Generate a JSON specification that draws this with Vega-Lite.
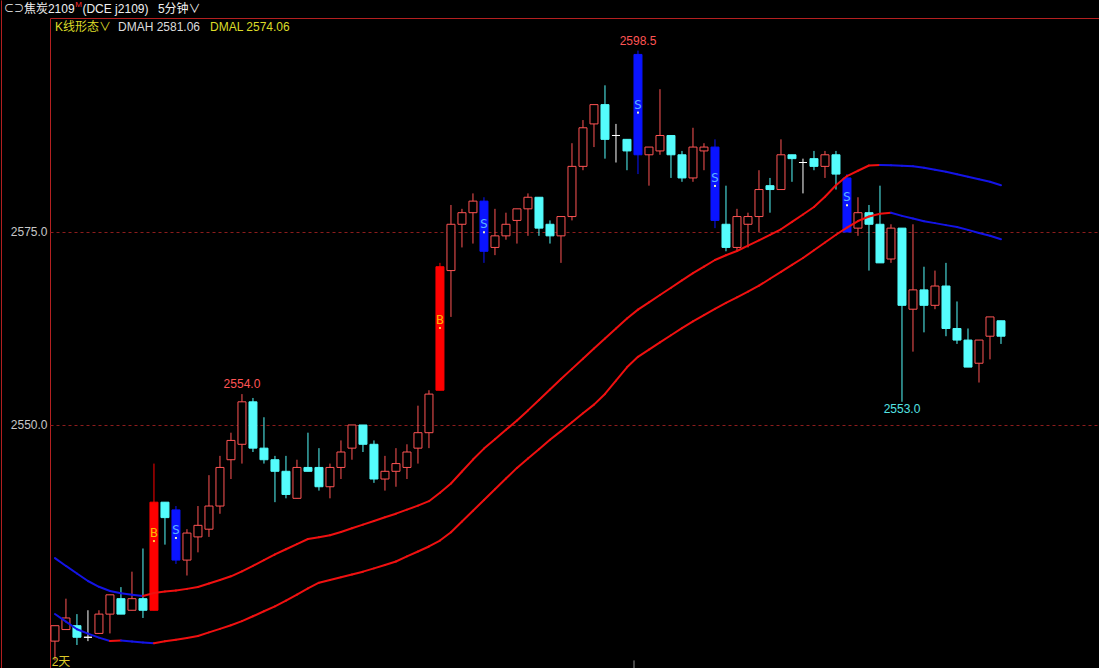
{
  "$schema": "https://vega.github.io/schema/vega-lite/v6.json",
  "width": 1049,
  "height": 650,
  "autosize": {"type": "none"},
  "padding": {"left": 50, "top": 18, "right": 0, "bottom": 0},
  "background": "#000000",
  "config": {"view": {"stroke": "#b42020", "strokeWidth": 1}, "font": "Liberation Sans, Noto Sans CJK SC"},
  "datasets": {
    "candles": [
      {"i":0,"o":2522.0,"h":2524.0,"l":2519.5,"c":2524.0,"sig":""},
      {"i":1,"o":2523.5,"h":2527.5,"l":2523.5,"c":2525.0,"sig":""},
      {"i":2,"o":2524.0,"h":2525.5,"l":2521.5,"c":2522.5,"sig":""},
      {"i":3,"o":2522.5,"h":2526.0,"l":2522.0,"c":2522.5,"sig":""},
      {"i":4,"o":2523.0,"h":2526.0,"l":2523.0,"c":2525.5,"sig":""},
      {"i":5,"o":2525.5,"h":2528.0,"l":2523.0,"c":2528.0,"sig":""},
      {"i":6,"o":2527.5,"h":2529.0,"l":2525.5,"c":2525.5,"sig":""},
      {"i":7,"o":2526.0,"h":2531.0,"l":2526.0,"c":2527.5,"sig":""},
      {"i":8,"o":2527.5,"h":2534.0,"l":2525.0,"c":2526.0,"sig":""},
      {"i":9,"o":2526.0,"h":2545.0,"l":2526.0,"c":2540.0,"sig":"B"},
      {"i":10,"o":2540.0,"h":2540.0,"l":2534.5,"c":2538.0,"sig":""},
      {"i":11,"o":2539.0,"h":2539.5,"l":2532.0,"c":2532.5,"sig":"S"},
      {"i":12,"o":2532.5,"h":2536.5,"l":2530.5,"c":2536.0,"sig":""},
      {"i":13,"o":2535.5,"h":2539.5,"l":2533.5,"c":2537.0,"sig":""},
      {"i":14,"o":2536.5,"h":2543.5,"l":2535.5,"c":2539.5,"sig":""},
      {"i":15,"o":2539.5,"h":2546.0,"l":2538.5,"c":2544.5,"sig":""},
      {"i":16,"o":2545.5,"h":2549.0,"l":2543.0,"c":2548.0,"sig":""},
      {"i":17,"o":2547.5,"h":2554.0,"l":2545.0,"c":2553.0,"sig":""},
      {"i":18,"o":2553.0,"h":2553.5,"l":2546.5,"c":2547.0,"sig":""},
      {"i":19,"o":2547.0,"h":2551.0,"l":2545.0,"c":2545.5,"sig":""},
      {"i":20,"o":2545.5,"h":2546.0,"l":2540.0,"c":2544.0,"sig":""},
      {"i":21,"o":2544.0,"h":2546.0,"l":2540.5,"c":2541.0,"sig":""},
      {"i":22,"o":2540.5,"h":2545.5,"l":2540.5,"c":2544.5,"sig":""},
      {"i":23,"o":2544.5,"h":2549.0,"l":2544.0,"c":2544.0,"sig":""},
      {"i":24,"o":2544.5,"h":2547.0,"l":2541.5,"c":2542.0,"sig":""},
      {"i":25,"o":2542.0,"h":2545.0,"l":2540.5,"c":2544.5,"sig":""},
      {"i":26,"o":2544.5,"h":2548.0,"l":2543.0,"c":2546.5,"sig":""},
      {"i":27,"o":2547.0,"h":2550.0,"l":2545.5,"c":2550.0,"sig":""},
      {"i":28,"o":2550.0,"h":2550.0,"l":2546.5,"c":2547.5,"sig":""},
      {"i":29,"o":2547.5,"h":2548.0,"l":2542.5,"c":2543.0,"sig":""},
      {"i":30,"o":2543.0,"h":2546.0,"l":2541.5,"c":2544.0,"sig":""},
      {"i":31,"o":2544.0,"h":2547.0,"l":2542.0,"c":2545.0,"sig":""},
      {"i":32,"o":2544.5,"h":2547.5,"l":2543.0,"c":2546.5,"sig":""},
      {"i":33,"o":2547.0,"h":2552.5,"l":2545.0,"c":2549.0,"sig":""},
      {"i":34,"o":2549.0,"h":2554.5,"l":2547.0,"c":2554.0,"sig":""},
      {"i":35,"o":2554.5,"h":2571.0,"l":2554.5,"c":2570.5,"sig":"B"},
      {"i":36,"o":2570.0,"h":2578.5,"l":2564.0,"c":2576.0,"sig":""},
      {"i":37,"o":2576.0,"h":2578.0,"l":2573.0,"c":2577.5,"sig":""},
      {"i":38,"o":2577.5,"h":2580.0,"l":2573.5,"c":2579.0,"sig":""},
      {"i":39,"o":2579.0,"h":2579.5,"l":2571.0,"c":2572.5,"sig":"S"},
      {"i":40,"o":2573.0,"h":2578.0,"l":2572.0,"c":2574.5,"sig":""},
      {"i":41,"o":2574.5,"h":2577.5,"l":2574.0,"c":2576.0,"sig":""},
      {"i":42,"o":2576.5,"h":2578.0,"l":2573.5,"c":2578.0,"sig":""},
      {"i":43,"o":2578.0,"h":2580.0,"l":2574.5,"c":2579.5,"sig":""},
      {"i":44,"o":2579.5,"h":2579.5,"l":2574.5,"c":2575.5,"sig":""},
      {"i":45,"o":2576.0,"h":2576.5,"l":2573.5,"c":2574.5,"sig":""},
      {"i":46,"o":2574.5,"h":2577.0,"l":2571.0,"c":2577.0,"sig":""},
      {"i":47,"o":2577.0,"h":2586.5,"l":2576.5,"c":2583.5,"sig":""},
      {"i":48,"o":2583.5,"h":2589.5,"l":2583.0,"c":2588.5,"sig":""},
      {"i":49,"o":2589.0,"h":2591.5,"l":2586.0,"c":2591.5,"sig":""},
      {"i":50,"o":2591.5,"h":2594.0,"l":2584.5,"c":2587.0,"sig":""},
      {"i":51,"o":2587.5,"h":2589.0,"l":2584.0,"c":2587.5,"sig":""},
      {"i":52,"o":2587.0,"h":2587.0,"l":2583.0,"c":2585.5,"sig":""},
      {"i":53,"o":2598.0,"h":2598.5,"l":2582.5,"c":2585.0,"sig":"S"},
      {"i":54,"o":2585.0,"h":2586.0,"l":2581.0,"c":2586.0,"sig":""},
      {"i":55,"o":2585.5,"h":2593.5,"l":2585.0,"c":2587.5,"sig":""},
      {"i":56,"o":2587.5,"h":2587.5,"l":2582.0,"c":2585.0,"sig":""},
      {"i":57,"o":2585.0,"h":2585.5,"l":2581.5,"c":2582.0,"sig":""},
      {"i":58,"o":2582.0,"h":2588.5,"l":2581.5,"c":2586.0,"sig":""},
      {"i":59,"o":2585.5,"h":2586.5,"l":2583.0,"c":2586.0,"sig":""},
      {"i":60,"o":2586.0,"h":2587.0,"l":2575.5,"c":2576.5,"sig":"S"},
      {"i":61,"o":2576.0,"h":2581.0,"l":2572.5,"c":2573.0,"sig":""},
      {"i":62,"o":2573.0,"h":2578.0,"l":2572.5,"c":2577.0,"sig":""},
      {"i":63,"o":2576.0,"h":2577.5,"l":2573.0,"c":2577.0,"sig":""},
      {"i":64,"o":2577.0,"h":2583.0,"l":2575.0,"c":2580.5,"sig":""},
      {"i":65,"o":2581.0,"h":2582.0,"l":2577.5,"c":2580.5,"sig":""},
      {"i":66,"o":2580.5,"h":2587.0,"l":2580.5,"c":2585.0,"sig":""},
      {"i":67,"o":2585.0,"h":2585.0,"l":2581.5,"c":2584.5,"sig":""},
      {"i":68,"o":2584.0,"h":2584.5,"l":2580.0,"c":2584.0,"sig":""},
      {"i":69,"o":2584.5,"h":2585.5,"l":2583.0,"c":2583.5,"sig":""},
      {"i":70,"o":2583.5,"h":2585.5,"l":2582.0,"c":2585.0,"sig":""},
      {"i":71,"o":2585.0,"h":2585.5,"l":2580.5,"c":2582.5,"sig":""},
      {"i":72,"o":2582.0,"h":2582.5,"l":2575.0,"c":2575.0,"sig":"S"},
      {"i":73,"o":2575.5,"h":2579.5,"l":2574.5,"c":2577.5,"sig":""},
      {"i":74,"o":2577.5,"h":2578.5,"l":2570.0,"c":2576.0,"sig":""},
      {"i":75,"o":2576.0,"h":2581.0,"l":2571.0,"c":2571.0,"sig":""},
      {"i":76,"o":2571.5,"h":2576.0,"l":2571.0,"c":2575.5,"sig":""},
      {"i":77,"o":2575.5,"h":2575.5,"l":2553.0,"c":2565.5,"sig":""},
      {"i":78,"o":2565.0,"h":2576.0,"l":2559.5,"c":2567.5,"sig":""},
      {"i":79,"o":2567.5,"h":2570.5,"l":2562.0,"c":2565.5,"sig":""},
      {"i":80,"o":2565.5,"h":2570.0,"l":2565.0,"c":2568.0,"sig":""},
      {"i":81,"o":2568.0,"h":2571.0,"l":2561.5,"c":2562.5,"sig":""},
      {"i":82,"o":2562.5,"h":2566.0,"l":2560.5,"c":2561.0,"sig":""},
      {"i":83,"o":2561.0,"h":2562.5,"l":2557.5,"c":2557.5,"sig":""},
      {"i":84,"o":2558.0,"h":2561.0,"l":2555.5,"c":2561.0,"sig":""},
      {"i":85,"o":2561.5,"h":2564.0,"l":2558.5,"c":2564.0,"sig":""},
      {"i":86,"o":2563.5,"h":2563.5,"l":2560.5,"c":2561.5,"sig":""}
    ],
    "ma": [
      {"i":0,"dmah":2532.76,"dmal":2525.51},{"i":1,"dmah":2531.74,"dmal":2524.52},{"i":2,"dmah":2530.76,"dmal":2523.54},
      {"i":3,"dmah":2529.79,"dmal":2522.97},{"i":4,"dmah":2529.04,"dmal":2522.45},{"i":5,"dmah":2528.50,"dmal":2522.02},
      {"i":6,"dmah":2528.21,"dmal":2522.09},{"i":7,"dmah":2528.02,"dmal":2521.94},{"i":8,"dmah":2527.85,"dmal":2521.83},
      {"i":9,"dmah":2528.24,"dmal":2521.74},{"i":10,"dmah":2528.43,"dmal":2521.98},{"i":11,"dmah":2528.56,"dmal":2522.19},
      {"i":12,"dmah":2528.77,"dmal":2522.40},{"i":13,"dmah":2529.02,"dmal":2522.67},{"i":14,"dmah":2529.47,"dmal":2523.13},
      {"i":15,"dmah":2529.92,"dmal":2523.59},{"i":16,"dmah":2530.40,"dmal":2524.05},{"i":17,"dmah":2531.04,"dmal":2524.59},
      {"i":18,"dmah":2531.76,"dmal":2525.22},{"i":19,"dmah":2532.49,"dmal":2525.87},{"i":20,"dmah":2533.23,"dmal":2526.50},
      {"i":21,"dmah":2533.90,"dmal":2527.25},{"i":22,"dmah":2534.57,"dmal":2528.03},{"i":23,"dmah":2535.23,"dmal":2528.82},
      {"i":24,"dmah":2535.47,"dmal":2529.57},{"i":25,"dmah":2535.71,"dmal":2529.92},{"i":26,"dmah":2536.14,"dmal":2530.27},
      {"i":27,"dmah":2536.62,"dmal":2530.63},{"i":28,"dmah":2537.09,"dmal":2531.00},{"i":29,"dmah":2537.56,"dmal":2531.42},
      {"i":30,"dmah":2538.04,"dmal":2531.87},{"i":31,"dmah":2538.51,"dmal":2532.32},{"i":32,"dmah":2539.03,"dmal":2532.97},
      {"i":33,"dmah":2539.55,"dmal":2533.61},{"i":34,"dmah":2540.13,"dmal":2534.26},{"i":35,"dmah":2541.22,"dmal":2535.03},
      {"i":36,"dmah":2542.42,"dmal":2536.11},{"i":37,"dmah":2543.98,"dmal":2537.50},{"i":38,"dmah":2545.52,"dmal":2538.89},
      {"i":39,"dmah":2546.94,"dmal":2540.28},{"i":40,"dmah":2548.15,"dmal":2541.67},{"i":41,"dmah":2549.37,"dmal":2543.06},
      {"i":42,"dmah":2550.58,"dmal":2544.44},{"i":43,"dmah":2551.89,"dmal":2545.67},{"i":44,"dmah":2553.24,"dmal":2546.85},
      {"i":45,"dmah":2554.60,"dmal":2548.08},{"i":46,"dmah":2555.95,"dmal":2549.20},{"i":47,"dmah":2557.27,"dmal":2550.36},
      {"i":48,"dmah":2558.59,"dmal":2551.52},{"i":49,"dmah":2559.91,"dmal":2552.64},{"i":50,"dmah":2561.20,"dmal":2554.02},
      {"i":51,"dmah":2562.50,"dmal":2555.75},{"i":52,"dmah":2563.80,"dmal":2557.47},{"i":53,"dmah":2564.94,"dmal":2558.83},
      {"i":54,"dmah":2565.89,"dmal":2559.77},{"i":55,"dmah":2566.84,"dmal":2560.69},{"i":56,"dmah":2567.78,"dmal":2561.62},
      {"i":57,"dmah":2568.74,"dmal":2562.54},{"i":58,"dmah":2569.66,"dmal":2563.43},{"i":59,"dmah":2570.52,"dmal":2564.24},
      {"i":60,"dmah":2571.37,"dmal":2565.05},{"i":61,"dmah":2571.99,"dmal":2565.82},{"i":62,"dmah":2572.54,"dmal":2566.54},
      {"i":63,"dmah":2573.23,"dmal":2567.28},{"i":64,"dmah":2573.92,"dmal":2568.04},{"i":65,"dmah":2574.62,"dmal":2568.94},
      {"i":66,"dmah":2575.35,"dmal":2569.83},{"i":67,"dmah":2576.31,"dmal":2570.74},{"i":68,"dmah":2577.27,"dmal":2571.63},
      {"i":69,"dmah":2578.24,"dmal":2572.63},{"i":70,"dmah":2579.57,"dmal":2573.64},{"i":71,"dmah":2581.05,"dmal":2574.64},
      {"i":72,"dmah":2582.24,"dmal":2575.56},{"i":73,"dmah":2582.93,"dmal":2576.42},{"i":74,"dmah":2583.61,"dmal":2577.01},
      {"i":75,"dmah":2583.68,"dmal":2577.36},{"i":76,"dmah":2583.63,"dmal":2577.49},{"i":77,"dmah":2583.59,"dmal":2577.09},
      {"i":78,"dmah":2583.53,"dmal":2576.74},{"i":79,"dmah":2583.32,"dmal":2576.40},{"i":80,"dmah":2583.07,"dmal":2576.15},
      {"i":81,"dmah":2582.81,"dmal":2575.89},{"i":82,"dmah":2582.47,"dmal":2575.65},{"i":83,"dmah":2582.15,"dmal":2575.27},
      {"i":84,"dmah":2581.84,"dmal":2574.88},{"i":85,"dmah":2581.50,"dmal":2574.51},{"i":86,"dmah":2581.06,"dmal":2574.06}
    ],
    "signals": [
      {"i":9,"sig":"B","p":2536.0},{"i":11,"sig":"S","p":2536.4},{"i":35,"sig":"B","p":2563.6},
      {"i":39,"sig":"S","p":2576.0},{"i":53,"sig":"S","p":2591.5},{"i":60,"sig":"S","p":2582.0},{"i":72,"sig":"S","p":2579.5}
    ],
    "extremes": [
      {"i":53,"p":2598.5,"k":"hi"},{"i":17,"p":2554.0,"k":"hi"},{"i":77,"p":2553.0,"k":"lo"}
    ]
  },
  "layer": [
    {
      "data": {"name": "candles"},
      "mark": {"type": "rule", "strokeWidth": 1},
      "encoding": {
        "x": {"field": "i", "type": "quantitative", "scale": {"domain": [-0.45, 94.91], "nice": false, "zero": false, "padding": 0}, "axis": null},
        "y": {"field": "l", "type": "quantitative", "scale": {"domain": [2518.52, 2602.72], "nice": false, "zero": false, "padding": 0},
              "axis": {"values": [2550, 2575], "format": ".1f", "grid": true, "gridColor": "#8c1c1c", "gridDash": [3, 3], "gridWidth": 1, "domain": false, "ticks": false, "labelColor": "#c8c8c8", "labelFontSize": 12, "labelPadding": 3, "title": null, "labelFont": "Liberation Sans"}},
        "y2": {"field": "h"},
        "color": {"condition": [
          {"test": "datum.sig == 'B'", "value": "#ff0000"},
          {"test": "datum.sig == 'S'", "value": "#0a14ff"},
          {"test": "datum.c < datum.o", "value": "#54fcfc"},
          {"test": "datum.c > datum.o", "value": "#ff5454"}
        ], "value": "#ffffff"}
      }
    },
    {
      "data": {"name": "candles"},
      "mark": {"type": "bar", "width": 8, "strokeWidth": 1},
      "encoding": {
        "x": {"field": "i", "type": "quantitative", "scale": {"domain": [-0.45, 94.91], "nice": false, "zero": false, "padding": 0}, "axis": null},
        "y": {"field": "o", "type": "quantitative", "scale": {"domain": [2518.52, 2602.72], "nice": false, "zero": false, "padding": 0},
              "axis": {"values": [2550, 2575], "format": ".1f", "grid": true, "gridColor": "#8c1c1c", "gridDash": [3, 3], "gridWidth": 1, "domain": false, "ticks": false, "labelColor": "#c8c8c8", "labelFontSize": 12, "labelPadding": 3, "title": null, "labelFont": "Liberation Sans"}},
        "y2": {"field": "c"},
        "fill": {"condition": [
          {"test": "datum.sig == 'B'", "value": "#ff0000"},
          {"test": "datum.sig == 'S'", "value": "#0a14ff"},
          {"test": "datum.c < datum.o", "value": "#54fcfc"},
          {"test": "datum.c > datum.o", "value": "#000000"}
        ], "value": "#ffffff"},
        "stroke": {"condition": [
          {"test": "datum.sig == 'B'", "value": "#ff0000"},
          {"test": "datum.sig == 'S'", "value": "#0a14ff"},
          {"test": "datum.c < datum.o", "value": "#54fcfc"},
          {"test": "datum.c > datum.o", "value": "#ff5454"}
        ], "value": "#ffffff"}
      }
    },
    {
      "data": {"name": "ma"},
      "transform": [
        {"window": [{"op": "lead", "field": "dmah", "as": "h2"}, {"op": "lead", "field": "i", "as": "i2"}], "sort": [{"field": "i"}]},
        {"filter": "datum.i2 != null"}
      ],
      "mark": {"type": "rule", "strokeWidth": 2, "strokeCap": "round"},
      "encoding": {
        "x": {"field": "i", "type": "quantitative", "scale": {"domain": [-0.45, 94.91], "nice": false, "zero": false, "padding": 0}, "axis": null},
        "x2": {"field": "i2"},
        "y": {"field": "dmah", "type": "quantitative", "scale": {"domain": [2518.52, 2602.72], "nice": false, "zero": false, "padding": 0},
              "axis": {"values": [2550, 2575], "format": ".1f", "grid": true, "gridColor": "#8c1c1c", "gridDash": [3, 3], "gridWidth": 1, "domain": false, "ticks": false, "labelColor": "#c8c8c8", "labelFontSize": 12, "labelPadding": 3, "title": null, "labelFont": "Liberation Sans"}},
        "y2": {"field": "h2"},
        "color": {"condition": {"test": "datum.h2 > datum.dmah", "value": "#f01010"}, "value": "#1414e6"}
      }
    },
    {
      "data": {"name": "ma"},
      "transform": [
        {"window": [{"op": "lead", "field": "dmal", "as": "l2"}, {"op": "lead", "field": "i", "as": "i2"}], "sort": [{"field": "i"}]},
        {"filter": "datum.i2 != null"}
      ],
      "mark": {"type": "rule", "strokeWidth": 2, "strokeCap": "round"},
      "encoding": {
        "x": {"field": "i", "type": "quantitative", "scale": {"domain": [-0.45, 94.91], "nice": false, "zero": false, "padding": 0}, "axis": null},
        "x2": {"field": "i2"},
        "y": {"field": "dmal", "type": "quantitative", "scale": {"domain": [2518.52, 2602.72], "nice": false, "zero": false, "padding": 0},
              "axis": {"values": [2550, 2575], "format": ".1f", "grid": true, "gridColor": "#8c1c1c", "gridDash": [3, 3], "gridWidth": 1, "domain": false, "ticks": false, "labelColor": "#c8c8c8", "labelFontSize": 12, "labelPadding": 3, "title": null, "labelFont": "Liberation Sans"}},
        "y2": {"field": "l2"},
        "color": {"condition": {"test": "datum.l2 > datum.dmal", "value": "#f01010"}, "value": "#1414e6"}
      }
    },
    {
      "data": {"name": "signals"},
      "mark": {"type": "text", "fontSize": 13, "align": "center", "baseline": "middle", "font": "DejaVu Sans Mono"},
      "encoding": {
        "x": {"field": "i", "type": "quantitative", "scale": {"domain": [-0.45, 94.91], "nice": false, "zero": false, "padding": 0}, "axis": null},
        "y": {"field": "p", "type": "quantitative", "scale": {"domain": [2518.52, 2602.72], "nice": false, "zero": false, "padding": 0},
              "axis": {"values": [2550, 2575], "format": ".1f", "grid": true, "gridColor": "#8c1c1c", "gridDash": [3, 3], "gridWidth": 1, "domain": false, "ticks": false, "labelColor": "#c8c8c8", "labelFontSize": 12, "labelPadding": 3, "title": null, "labelFont": "Liberation Sans"}},
        "text": {"field": "sig"},
        "color": {"condition": {"test": "datum.sig == 'B'", "value": "#ffb400"}, "value": "#5ab0ff"}
      }
    },
    {
      "data": {"name": "signals"},
      "mark": {"type": "square", "size": 4, "opacity": 1, "yOffset": 8},
      "encoding": {
        "x": {"field": "i", "type": "quantitative", "scale": {"domain": [-0.45, 94.91], "nice": false, "zero": false, "padding": 0}, "axis": null},
        "y": {"field": "p", "type": "quantitative", "scale": {"domain": [2518.52, 2602.72], "nice": false, "zero": false, "padding": 0},
              "axis": {"values": [2550, 2575], "format": ".1f", "grid": true, "gridColor": "#8c1c1c", "gridDash": [3, 3], "gridWidth": 1, "domain": false, "ticks": false, "labelColor": "#c8c8c8", "labelFontSize": 12, "labelPadding": 3, "title": null, "labelFont": "Liberation Sans"}},
        "color": {"condition": {"test": "datum.sig == 'B'", "value": "#ffd040"}, "value": "#f0f0c0"}
      }
    },
    {
      "data": {"name": "extremes"},
      "transform": [{"filter": "datum.k == 'hi'"}],
      "mark": {"type": "text", "fontSize": 12, "align": "center", "baseline": "bottom", "dy": -3, "color": "#ff5454"},
      "encoding": {
        "x": {"field": "i", "type": "quantitative", "scale": {"domain": [-0.45, 94.91], "nice": false, "zero": false, "padding": 0}, "axis": null},
        "y": {"field": "p", "type": "quantitative", "scale": {"domain": [2518.52, 2602.72], "nice": false, "zero": false, "padding": 0},
              "axis": {"values": [2550, 2575], "format": ".1f", "grid": true, "gridColor": "#8c1c1c", "gridDash": [3, 3], "gridWidth": 1, "domain": false, "ticks": false, "labelColor": "#c8c8c8", "labelFontSize": 12, "labelPadding": 3, "title": null, "labelFont": "Liberation Sans"}},
        "text": {"field": "p", "type": "quantitative", "format": ".1f"}
      }
    },
    {
      "data": {"name": "extremes"},
      "transform": [{"filter": "datum.k == 'lo'"}],
      "mark": {"type": "text", "fontSize": 12, "align": "center", "baseline": "top", "dy": 2, "color": "#54e4e4"},
      "encoding": {
        "x": {"field": "i", "type": "quantitative", "scale": {"domain": [-0.45, 94.91], "nice": false, "zero": false, "padding": 0}, "axis": null},
        "y": {"field": "p", "type": "quantitative", "scale": {"domain": [2518.52, 2602.72], "nice": false, "zero": false, "padding": 0},
              "axis": {"values": [2550, 2575], "format": ".1f", "grid": true, "gridColor": "#8c1c1c", "gridDash": [3, 3], "gridWidth": 1, "domain": false, "ticks": false, "labelColor": "#c8c8c8", "labelFontSize": 12, "labelPadding": 3, "title": null, "labelFont": "Liberation Sans"}},
        "text": {"field": "p", "type": "quantitative", "format": ".1f"}
      }
    },
    {
      "data": {"values": [{}]},
      "mark": {"type": "rule", "color": "#b42020", "strokeWidth": 1, "clip": false},
      "encoding": {
        "x": {"datum": -4.86, "type": "quantitative", "scale": {"domain": [-0.45, 94.91], "nice": false, "zero": false, "padding": 0}, "axis": null},
        "y": {"datum": 2518.52, "type": "quantitative", "scale": {"domain": [2518.52, 2602.72], "nice": false, "zero": false, "padding": 0},
              "axis": {"values": [2550, 2575], "format": ".1f", "grid": true, "gridColor": "#8c1c1c", "gridDash": [3, 3], "gridWidth": 1, "domain": false, "ticks": false, "labelColor": "#c8c8c8", "labelFontSize": 12, "labelPadding": 3, "title": null, "labelFont": "Liberation Sans"}},
        "y2": {"datum": 2605.0}
      }
    },
    {
      "data": {"values": [{}]},
      "mark": {"type": "rule", "color": "#909090", "strokeWidth": 1, "clip": false},
      "encoding": {
        "x": {"datum": 52.64, "type": "quantitative", "scale": {"domain": [-0.45, 94.91], "nice": false, "zero": false, "padding": 0}, "axis": null},
        "y": {"datum": 2518.52, "type": "quantitative", "scale": {"domain": [2518.52, 2602.72], "nice": false, "zero": false, "padding": 0},
              "axis": {"values": [2550, 2575], "format": ".1f", "grid": true, "gridColor": "#8c1c1c", "gridDash": [3, 3], "gridWidth": 1, "domain": false, "ticks": false, "labelColor": "#c8c8c8", "labelFontSize": 12, "labelPadding": 3, "title": null, "labelFont": "Liberation Sans"}},
        "y2": {"datum": 2519.5}
      }
    },
    {
      "data": {"values": [{}]},
      "mark": {"type": "text", "text": "⊂⊃", "fontSize": 10, "align": "left", "baseline": "middle", "color": "#f0f0f0"},
      "encoding": {
        "x": {"datum": -4.64, "type": "quantitative", "scale": {"domain": [-0.45, 94.91], "nice": false, "zero": false, "padding": 0}, "axis": null},
        "y": {"datum": 2603.85, "type": "quantitative", "scale": {"domain": [2518.52, 2602.72], "nice": false, "zero": false, "padding": 0},
              "axis": {"values": [2550, 2575], "format": ".1f", "grid": true, "gridColor": "#8c1c1c", "gridDash": [3, 3], "gridWidth": 1, "domain": false, "ticks": false, "labelColor": "#c8c8c8", "labelFontSize": 12, "labelPadding": 3, "title": null, "labelFont": "Liberation Sans"}}
      }
    },
    {
      "data": {"values": [{}]},
      "mark": {"type": "text", "text": "焦炭2109", "fontSize": 12, "align": "left", "baseline": "middle", "color": "#f0f0f0"},
      "encoding": {
        "x": {"datum": -2.82, "type": "quantitative", "scale": {"domain": [-0.45, 94.91], "nice": false, "zero": false, "padding": 0}, "axis": null},
        "y": {"datum": 2603.85, "type": "quantitative", "scale": {"domain": [2518.52, 2602.72], "nice": false, "zero": false, "padding": 0},
              "axis": {"values": [2550, 2575], "format": ".1f", "grid": true, "gridColor": "#8c1c1c", "gridDash": [3, 3], "gridWidth": 1, "domain": false, "ticks": false, "labelColor": "#c8c8c8", "labelFontSize": 12, "labelPadding": 3, "title": null, "labelFont": "Liberation Sans"}}
      }
    },
    {
      "data": {"values": [{}]},
      "mark": {"type": "text", "text": "M", "fontSize": 8, "align": "left", "baseline": "middle", "color": "#ff3030"},
      "encoding": {
        "x": {"datum": 1.85, "type": "quantitative", "scale": {"domain": [-0.45, 94.91], "nice": false, "zero": false, "padding": 0}, "axis": null},
        "y": {"datum": 2604.4, "type": "quantitative", "scale": {"domain": [2518.52, 2602.72], "nice": false, "zero": false, "padding": 0},
              "axis": {"values": [2550, 2575], "format": ".1f", "grid": true, "gridColor": "#8c1c1c", "gridDash": [3, 3], "gridWidth": 1, "domain": false, "ticks": false, "labelColor": "#c8c8c8", "labelFontSize": 12, "labelPadding": 3, "title": null, "labelFont": "Liberation Sans"}}
      }
    },
    {
      "data": {"values": [{}]},
      "mark": {"type": "text", "text": "(DCE j2109)", "fontSize": 12, "align": "left", "baseline": "middle", "color": "#f0f0f0"},
      "encoding": {
        "x": {"datum": 2.5, "type": "quantitative", "scale": {"domain": [-0.45, 94.91], "nice": false, "zero": false, "padding": 0}, "axis": null},
        "y": {"datum": 2603.85, "type": "quantitative", "scale": {"domain": [2518.52, 2602.72], "nice": false, "zero": false, "padding": 0},
              "axis": {"values": [2550, 2575], "format": ".1f", "grid": true, "gridColor": "#8c1c1c", "gridDash": [3, 3], "gridWidth": 1, "domain": false, "ticks": false, "labelColor": "#c8c8c8", "labelFontSize": 12, "labelPadding": 3, "title": null, "labelFont": "Liberation Sans"}}
      }
    },
    {
      "data": {"values": [{}]},
      "mark": {"type": "text", "text": "5分钟∨", "fontSize": 12, "align": "left", "baseline": "middle", "color": "#f0f0f0"},
      "encoding": {
        "x": {"datum": 9.36, "type": "quantitative", "scale": {"domain": [-0.45, 94.91], "nice": false, "zero": false, "padding": 0}, "axis": null},
        "y": {"datum": 2603.85, "type": "quantitative", "scale": {"domain": [2518.52, 2602.72], "nice": false, "zero": false, "padding": 0},
              "axis": {"values": [2550, 2575], "format": ".1f", "grid": true, "gridColor": "#8c1c1c", "gridDash": [3, 3], "gridWidth": 1, "domain": false, "ticks": false, "labelColor": "#c8c8c8", "labelFontSize": 12, "labelPadding": 3, "title": null, "labelFont": "Liberation Sans"}}
      }
    },
    {
      "data": {"values": [{}]},
      "mark": {"type": "text", "text": "K线形态∨", "fontSize": 12, "align": "left", "baseline": "middle", "color": "#dcdc28"},
      "encoding": {
        "x": {"datum": 0, "type": "quantitative", "scale": {"domain": [-0.45, 94.91], "nice": false, "zero": false, "padding": 0}, "axis": null},
        "y": {"datum": 2601.55, "type": "quantitative", "scale": {"domain": [2518.52, 2602.72], "nice": false, "zero": false, "padding": 0},
              "axis": {"values": [2550, 2575], "format": ".1f", "grid": true, "gridColor": "#8c1c1c", "gridDash": [3, 3], "gridWidth": 1, "domain": false, "ticks": false, "labelColor": "#c8c8c8", "labelFontSize": 12, "labelPadding": 3, "title": null, "labelFont": "Liberation Sans"}}
      }
    },
    {
      "data": {"values": [{}]},
      "mark": {"type": "text", "text": "DMAH 2581.06", "fontSize": 12, "align": "left", "baseline": "middle", "color": "#dcdcdc"},
      "encoding": {
        "x": {"datum": 5.73, "type": "quantitative", "scale": {"domain": [-0.45, 94.91], "nice": false, "zero": false, "padding": 0}, "axis": null},
        "y": {"datum": 2601.55, "type": "quantitative", "scale": {"domain": [2518.52, 2602.72], "nice": false, "zero": false, "padding": 0},
              "axis": {"values": [2550, 2575], "format": ".1f", "grid": true, "gridColor": "#8c1c1c", "gridDash": [3, 3], "gridWidth": 1, "domain": false, "ticks": false, "labelColor": "#c8c8c8", "labelFontSize": 12, "labelPadding": 3, "title": null, "labelFont": "Liberation Sans"}}
      }
    },
    {
      "data": {"values": [{}]},
      "mark": {"type": "text", "text": "DMAL 2574.06", "fontSize": 12, "align": "left", "baseline": "middle", "color": "#dcdc28"},
      "encoding": {
        "x": {"datum": 14.1, "type": "quantitative", "scale": {"domain": [-0.45, 94.91], "nice": false, "zero": false, "padding": 0}, "axis": null},
        "y": {"datum": 2601.55, "type": "quantitative", "scale": {"domain": [2518.52, 2602.72], "nice": false, "zero": false, "padding": 0},
              "axis": {"values": [2550, 2575], "format": ".1f", "grid": true, "gridColor": "#8c1c1c", "gridDash": [3, 3], "gridWidth": 1, "domain": false, "ticks": false, "labelColor": "#c8c8c8", "labelFontSize": 12, "labelPadding": 3, "title": null, "labelFont": "Liberation Sans"}}
      }
    },
    {
      "data": {"values": [{}]},
      "mark": {"type": "text", "text": "2天", "fontSize": 12, "align": "left", "baseline": "middle", "color": "#dcc828"},
      "encoding": {
        "x": {"datum": -0.3, "type": "quantitative", "scale": {"domain": [-0.45, 94.91], "nice": false, "zero": false, "padding": 0}, "axis": null},
        "y": {"datum": 2519.3, "type": "quantitative", "scale": {"domain": [2518.52, 2602.72], "nice": false, "zero": false, "padding": 0},
              "axis": {"values": [2550, 2575], "format": ".1f", "grid": true, "gridColor": "#8c1c1c", "gridDash": [3, 3], "gridWidth": 1, "domain": false, "ticks": false, "labelColor": "#c8c8c8", "labelFontSize": 12, "labelPadding": 3, "title": null, "labelFont": "Liberation Sans"}}
      }
    }
  ]
}
